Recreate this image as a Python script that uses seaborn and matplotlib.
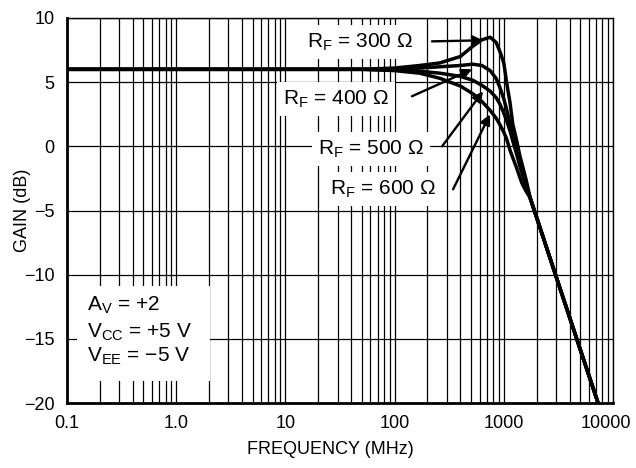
import numpy as np
import pandas as pd
import matplotlib
matplotlib.use("Agg")
import matplotlib.pyplot as plt
from matplotlib.patches import Rectangle
from matplotlib.transforms import ScaledTranslation
import seaborn as sns

# Frequency response of the amplifier for several feedback resistors
freq_mhz = [0.1, 1, 10, 50, 100, 170, 260, 400, 520, 630, 750, 850, 920,
            1000, 1060, 1140, 1210, 1300, 1400, 1470, 1600, 1740, 2000,
            3000, 5000, 7300]
gain_rf300 = [6.0, 6.0, 6.0, 6.0, 6.1, 6.3, 6.5, 7.0, 7.8, 8.3, 8.5, 8.1, 7.4,
              6.5, 5.0, 3.4, 1.7, 0.6, -0.7, -1.4, -2.6, -4.0, -5.55,
              -10.1, -15.8, -20.0]
gain_rf400 = [6.0, 6.0, 6.0, 6.0, 6.05, 6.1, 6.2, 6.3, 6.4, 6.3, 5.9, 5.3, 4.6,
              3.7, 2.9, 1.8, 0.9, -0.1, -1.1, -1.8, -2.9, -4.0, -5.55,
              -10.1, -15.8, -20.0]
gain_rf500 = [6.0, 6.0, 6.0, 6.0, 5.95, 5.85, 5.7, 5.45, 5.15, 4.75, 4.3, 3.8, 3.3,
              2.6, 2.0, 1.2, 0.4, -0.5, -1.5, -2.1, -3.1, -4.0, -5.55,
              -10.1, -15.8, -20.0]
gain_rf600 = [6.0, 6.0, 6.0, 6.0, 5.9, 5.7, 5.3, 4.7, 4.1, 3.5, 2.8, 2.2, 1.7,
              1.1, 0.6, -0.3, -0.9, -1.6, -2.4, -2.9, -3.5, -4.0, -5.55,
              -10.1, -15.8, -20.0]

rf_labels = ["300", "400", "500", "600"]
x_ticks = [0.1, 1, 10, 100, 1000, 10000]
x_tick_labels = ["0.1", "1.0", "10", "100", "1000", "10000"]
y_ticks = [-20, -15, -10, -5, 0, 5, 10]

# Callout geometry: (text anchor, arrow tail, arrow head) in data units
callouts = {
    "300": ((15.8, 8.1), (220, 8.18), (646, 8.26)),
    "400": ((9.5, 3.66), (144, 3.9), (512, 6.0)),
    "500": ((19.9, -0.23), (272, 0.0), (646, 4.29)),
    "600": ((25.6, -3.35), (343, -3.35), (748, 2.49)),
}

sns.set_theme(style="white")
plt.rcParams["font.family"] = ["Liberation Sans", "DejaVu Sans"]
plt.rcParams["mathtext.fontset"] = "custom"
plt.rcParams["mathtext.rm"] = "Liberation Sans"
plt.rcParams["mathtext.it"] = "Liberation Sans:italic"
plt.rcParams["axes.unicode_minus"] = True

df = pd.concat([
    pd.DataFrame({"freq": freq_mhz, "gain": g, "rf": lab})
    for g, lab in zip([gain_rf300, gain_rf400, gain_rf500, gain_rf600], rf_labels)
])

fig = plt.figure(figsize=(6.36, 4.68), dpi=100)
ax = fig.add_axes([67 / 636, 1 - 403 / 468, (613 - 67) / 636, (403 - 18) / 468])

sns.lineplot(data=df, x="freq", y="gain", hue="rf",
             palette=["black"] * 4, linewidth=2.5, legend=False,
             ax=ax, zorder=3, sort=False)

ax.set_xscale("log")
ax.set_xlim(0.1, 10000)
ax.set_ylim(-20, 10)
ax.set_xticks(x_ticks)
ax.set_xticklabels(x_tick_labels)
ax.set_yticks(y_ticks)
ax.xaxis.set_minor_locator(matplotlib.ticker.LogLocator(base=10, subs=np.arange(2, 10)))
ax.xaxis.set_minor_formatter(matplotlib.ticker.NullFormatter())
ax.tick_params(axis="both", which="both", length=0, labelsize=13,
               colors="black")
ax.tick_params(axis="x", pad=9)
ax.tick_params(axis="y", pad=9)

# keep the last frequency label inside the figure
last = ax.get_xticklabels()[-1]
last.set_transform(last.get_transform()
                   + ScaledTranslation(-7 / 100, 0, fig.dpi_scale_trans))

ax.set_axisbelow(True)
ax.grid(True, which="both", axis="x", color="black", linewidth=0.9)
ax.grid(True, which="major", axis="y", color="black", linewidth=0.9)

for side in ["left", "bottom"]:
    ax.spines[side].set_linewidth(2.0)
for side in ["top", "right"]:
    ax.spines[side].set_linewidth(1.0)
for sp in ax.spines.values():
    sp.set_color("black")

ax.set_xlabel("FREQUENCY (MHz)", fontsize=13, color="black", va="center")
ax.set_ylabel("GAIN (dB)", fontsize=13, color="black", va="center")
ax.xaxis.set_label_coords(0.482, -0.122)
ax.yaxis.set_label_coords(-0.082, 0.5)

# Feedback resistor callouts
for lab in rf_labels:
    (tx, ty), (ax0, ay0), (hx, hy) = callouts[lab]
    ax.text(tx, ty, r"R$_\mathrm{F}$ = " + lab + " Ω", fontsize=15,
            ha="left", va="center", color="black", zorder=4,
            bbox=dict(boxstyle="square,pad=0.3", facecolor="white",
                      edgecolor="none"))
    ax.annotate("", xy=(hx, hy), xytext=(ax0, ay0), zorder=5,
                arrowprops=dict(arrowstyle="-|>", color="black", lw=1.7,
                                mutation_scale=15, shrinkA=0, shrinkB=0))

# Test conditions block
ax.add_patch(Rectangle((0.123, -18.3), 2.04 - 0.123, 7.4, facecolor="white",
                       edgecolor="none", zorder=2))
cond_lines = [r"A$_\mathrm{V}$ = +2", r"V$_\mathrm{CC}$ = +5 V",
              r"V$_\mathrm{EE}$ = −5 V"]
cond_y = [-12.4, -14.5, -16.4]
for txt, yy in zip(cond_lines, cond_y):
    ax.text(0.152, yy, txt, fontsize=15, ha="left", va="center",
            color="black", zorder=4)

fig.savefig("out.png", dpi=100)
